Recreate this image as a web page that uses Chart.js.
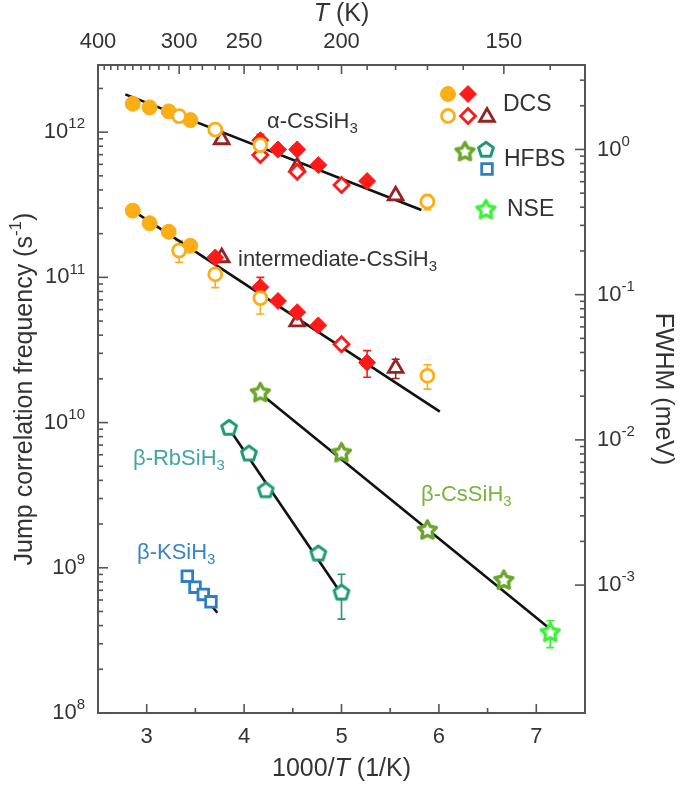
<!DOCTYPE html>
<html>
<head>
<meta charset="utf-8">
<script src="https://cdn.jsdelivr.net/npm/chart.js@4.4.1/dist/chart.umd.min.js"></script>
<style>
  html, body { margin: 0; padding: 0; background: #fff; }
  #wrap { width: 683px; height: 793px; }
</style>
</head>
<body>
<div id="wrap"><canvas id="c" width="683" height="793"></canvas></div>
<script>
// ── Axis ranges ──────────────────────────────────────────────────────
const xMin = 2.5, xMax = 7.5;
const yMin = 1e8, yMax = 2.9e12;
// jump frequency (s^-1) that corresponds to 1 meV FWHM
const perMeV = 7.6e11;

const bottomTicks = [3, 4, 5, 6, 7];
const topTickTemps = [400, 300, 250, 200, 150];
const leftDecades = [8, 9, 10, 11, 12];
const rightDecades = [-3, -2, -1, 0];

// ── alpha-CsSiH3 (DCS) ───────────────────────────────────────────────
const alphaFilledX = [2.857, 3.030, 3.226, 3.448];
const alphaFilledY = [1.57e12, 1.48e12, 1.39e12, 1.21e12];
const alphaOpenX = [3.333, 3.704, 4.167, 5.882];
const alphaOpenY = [1.29e12, 1.04e12, 8.15e11, 3.32e11];
const alphaOpenErr = [0, 0, 0, 4e10];
const alphaRedX = [4.167, 4.348, 4.545, 4.762, 5.263];
const alphaRedY = [8.8e11, 7.6e11, 7.6e11, 5.93e11, 4.6e11];
const alphaRedErr = [8.5e10, 0, 0, 0, 0];
const alphaRedOpenX = [4.167, 4.545, 5.0];
const alphaRedOpenY = [6.95e11, 5.33e11, 4.32e11];
const alphaTriX = [3.77, 4.545, 5.556];
const alphaTriY = [8.9e11, 5.77e11, 3.65e11];
const alphaFitX = [2.78, 5.82];
const alphaFitY = [1.82e12, 2.91e11];

// ── intermediate-CsSiH3 (DCS) ────────────────────────────────────────
const interFilledX = [2.857, 3.030, 3.226, 3.448];
const interFilledY = [2.88e11, 2.36e11, 2.06e11, 1.65e11];
const interOpenX = [3.333, 3.704, 4.167, 5.882];
const interOpenY = [1.53e11, 1.05e11, 7.2e10, 2.1e10];
const interOpenErr = [2.6e10, 2.0e10, 1.6e10, 4e9];
const interRedX = [3.704, 4.167, 4.348, 4.545, 4.762, 5.263];
const interRedY = [1.37e11, 8.55e10, 6.88e10, 5.76e10, 4.67e10, 2.59e10];
const interRedErr = [0, 1.45e10, 0, 0, 0, 5.4e9];
const interRedOpenX = [5.0];
const interRedOpenY = [3.46e10];
const interTriX = [3.77, 4.545, 5.556];
const interTriY = [1.37e11, 4.95e10, 2.37e10];
const interTriErr = [0, 0, 3.6e9];
const interFitX = [2.90, 6.01];
const interFitY = [2.76e11, 1.19e10];

// ── beta phases (HFBS, NSE) ──────────────────────────────────────────
const betaCsX = [4.167, 5.0, 5.882, 6.667];
const betaCsY = [1.6e10, 6.17e9, 1.81e9, 8.17e8];
const betaCsErr = [0, 0, 0, 6e7];
const nseX = [7.143];
const nseY = [3.57e8];
const nseErr = [7.5e7];
const betaCsFitX = [4.17, 7.13];
const betaCsFitY = [1.58e10, 3.85e8];

const betaRbX = [3.846, 4.05, 4.222, 4.762, 5.0];
const betaRbY = [9.17e9, 6.1e9, 3.41e9, 1.25e9, 6.73e8];
const betaRbErr = [0, 0, 0, 0, 2.3e8];
const betaRbFitX = [3.85, 5.0];
const betaRbFitY = [9.0e9, 6.6e8];

const betaKX = [3.417, 3.496, 3.581, 3.66];
const betaKY = [8.75e8, 7.35e8, 6.55e8, 5.83e8];
const betaKFitX = [3.393, 3.725];
const betaKFitY = [9.2e8, 4.9e8];

// ── Colours ──────────────────────────────────────────────────────────
const ORANGE = '#fcae17';
const RED = '#ff1a1a';
const DARKRED = '#962222';
const OLIVE = '#6aa52c';
const TEAL = '#1e9b70';
const BLUE = '#2e7fc0';
const NSEGREEN = '#3cf03c';
const FONT = '"Liberation Sans", Arial, sans-serif';

// open star / pentagon markers drawn into small canvases
function polyMarker(color, R, n, inner, lw) {
  const c = document.createElement('canvas');
  const size = Math.ceil(R * 2 + 8);
  c.width = c.height = size;
  const g = c.getContext('2d');
  const cx = size / 2, cy = size / 2;
  const steps = inner ? n * 2 : n;
  g.beginPath();
  for (let k = 0; k < steps; k++) {
    const r = inner && k % 2 ? R * inner : R;
    const a = -Math.PI / 2 + k * 2 * Math.PI / steps;
    g.lineTo(cx + r * Math.cos(a), cy + r * Math.sin(a));
  }
  g.closePath();
  g.fillStyle = '#fff';
  g.fill();
  g.lineWidth = lw;
  g.lineJoin = 'round';
  g.strokeStyle = color;
  g.stroke();
  return c;
}
const starOlive = polyMarker(OLIVE, 9.5, 5, 0.52, 3.4);
const starNse = polyMarker(NSEGREEN, 9.5, 5, 0.52, 3.4);
const pentTeal = polyMarker(TEAL, 7.8, 5, 0, 3);

function pts(xs, ys) {
  return xs.map((x, i) => ({ x: x, y: ys[i] }));
}

function marks(label, xs, ys, style, color, open, radius, errs) {
  return {
    type: 'scatter',
    label: label,
    data: pts(xs, ys),
    errs: errs || null,
    pointStyle: style,
    pointRadius: radius,
    pointBorderColor: color,
    pointBackgroundColor: open ? '#fff' : color,
    pointBorderWidth: open ? 2.8 : 1,
    order: 0
  };
}

function fit(xs, ys) {
  return {
    type: 'line',
    data: pts(xs, ys),
    borderColor: '#111',
    borderWidth: 2.6,
    pointRadius: 0,
    fill: false,
    order: 5
  };
}

const datasets = [
  marks('alpha open', alphaOpenX, alphaOpenY, 'circle', ORANGE, true, 6.5, alphaOpenErr),
  marks('alpha filled', alphaFilledX, alphaFilledY, 'circle', ORANGE, false, 7.5),
  marks('alpha red', alphaRedX, alphaRedY, 'rectRot', RED, false, 8.5, alphaRedErr),
  marks('alpha red open', alphaRedOpenX, alphaRedOpenY, 'rectRot', RED, true, 7.5),
  marks('alpha tri', alphaTriX, alphaTriY, 'triangle', DARKRED, true, 8.5),
  marks('inter open', interOpenX, interOpenY, 'circle', ORANGE, true, 6.5, interOpenErr),
  marks('inter filled', interFilledX, interFilledY, 'circle', ORANGE, false, 7.5),
  marks('inter red', interRedX, interRedY, 'rectRot', RED, false, 8.5, interRedErr),
  marks('inter red open', interRedOpenX, interRedOpenY, 'rectRot', RED, true, 7.5),
  marks('inter tri', interTriX, interTriY, 'triangle', DARKRED, true, 8.5, interTriErr),
  marks('beta-Cs', betaCsX, betaCsY, starOlive, OLIVE, true, 10, betaCsErr),
  marks('NSE', nseX, nseY, starNse, NSEGREEN, true, 10, nseErr),
  marks('beta-Rb', betaRbX, betaRbY, pentTeal, TEAL, true, 8, betaRbErr),
  marks('beta-K', betaKX, betaKY, 'rect', BLUE, true, 7.5),
  fit(alphaFitX, alphaFitY),
  fit(interFitX, interFitY),
  fit(betaCsFitX, betaCsFitY),
  fit(betaRbFitX, betaRbFitY),
  fit(betaKFitX, betaKFitY)
];

// ── Text helper: runs of plain / italic / sup / sub text ─────────────
function rich(ctx, x, y, parts, align, size, color) {
  const fontOf = function(p) {
    const small = p[1] === 'sup' || p[1] === 'sub';
    const s = small ? Math.round(size * 0.66) : size;
    return (p[1] === 'i' ? 'italic ' : '') + s + 'px ' + FONT;
  };
  let w = 0;
  parts.forEach(function(p) { ctx.font = fontOf(p); w += ctx.measureText(p[0]).width; });
  let cx = align === 'center' ? x - w / 2 : (align === 'right' ? x - w : x);
  ctx.fillStyle = color;
  ctx.textAlign = 'left';
  ctx.textBaseline = 'middle';
  parts.forEach(function(p) {
    ctx.font = fontOf(p);
    const dy = p[1] === 'sup' ? -size * 0.36 : (p[1] === 'sub' ? size * 0.3 : 0);
    ctx.fillText(p[0], cx, y + dy);
    cx += ctx.measureText(p[0]).width;
  });
}

// ── Error bars under the markers ─────────────────────────────────────
const errorBars = {
  id: 'errorBars',
  beforeDatasetsDraw(chart) {
    const ctx = chart.ctx;
    const ys = chart.scales.y;
    chart.data.datasets.forEach(function(ds, i) {
      if (!ds.errs) return;
      const meta = chart.getDatasetMeta(i);
      ctx.save();
      ctx.strokeStyle = ds.pointBorderColor;
      ctx.lineWidth = 1.6;
      ds.errs.forEach(function(e, k) {
        if (!e) return;
        const el = meta.data[k];
        const v = ds.data[k].y;
        const top = ys.getPixelForValue(v + e);
        const bot = ys.getPixelForValue(Math.max(v - e, yMin));
        ctx.beginPath();
        ctx.moveTo(el.x, top); ctx.lineTo(el.x, bot);
        ctx.moveTo(el.x - 4, top); ctx.lineTo(el.x + 4, top);
        ctx.moveTo(el.x - 4, bot); ctx.lineTo(el.x + 4, bot);
        ctx.stroke();
      });
      ctx.restore();
    });
  }
};

// ── Frame, inward ticks, tick labels, titles, legend, phase labels ───
const decor = {
  id: 'decor',
  afterDatasetsDraw(chart) {
    const ctx = chart.ctx;
    const a = chart.chartArea;
    const sx = chart.scales.x, sx2 = chart.scales.x2;
    const sy = chart.scales.y, sy2 = chart.scales.y2;
    ctx.save();

    // phase labels
    rich(ctx, a.left + 169, a.top + 57, [['\u03b1-CsSiH'], ['3', 'sub']], 'left', 22, '#333');
    rich(ctx, a.left + 140, a.top + 195, [['intermediate-CsSiH'], ['3', 'sub']], 'left', 22, '#333');
    rich(ctx, a.left + 35, a.top + 394, [['\u03b2-RbSiH'], ['3', 'sub']], 'left', 22, '#3fa6a2');
    rich(ctx, a.left + 39, a.top + 488, [['\u03b2-KSiH'], ['3', 'sub']], 'left', 22, '#3b84c4');
    rich(ctx, a.left + 323, a.top + 430, [['\u03b2-CsSiH'], ['3', 'sub']], 'left', 22, '#7ab43c');

    // legend
    const H = Chart.helpers;
    const pt = function(style, color, open, r, x, y) {
      ctx.save();
      ctx.strokeStyle = color;
      ctx.fillStyle = open ? '#fff' : color;
      ctx.lineWidth = open ? 2.8 : 1;
      H.drawPoint(ctx, { pointStyle: style, radius: r, rotation: 0, borderWidth: ctx.lineWidth }, a.left + x, a.top + y);
      ctx.restore();
    };
    pt('circle', ORANGE, false, 7.5, 350, 29);
    pt('rectRot', RED, false, 8.5, 370, 29);
    pt('circle', ORANGE, true, 6.5, 350, 51);
    pt('rectRot', RED, true, 7.5, 370, 51);
    pt('triangle', DARKRED, true, 8.5, 389, 52);
    pt(starOlive, OLIVE, true, 10, 367, 87);
    pt(pentTeal, TEAL, true, 8, 388, 85);
    pt('rect', BLUE, true, 7.5, 389, 104);
    pt(starNse, NSEGREEN, true, 10, 388, 145);
    rich(ctx, a.left + 405, a.top + 40, [['DCS']], 'left', 23, '#333');
    rich(ctx, a.left + 406, a.top + 95, [['HFBS']], 'left', 23, '#333');
    rich(ctx, a.left + 409, a.top + 145, [['NSE']], 'left', 23, '#333');

    // frame
    ctx.strokeStyle = '#555';
    ctx.lineWidth = 2;
    ctx.strokeRect(a.left, a.top, a.right - a.left, a.bottom - a.top);

    const tick = function(x0, y0, dx, dy) {
      ctx.beginPath(); ctx.moveTo(x0, y0); ctx.lineTo(x0 + dx, y0 + dy); ctx.stroke();
    };
    ctx.lineWidth = 1.6;

    // bottom axis
    for (let v = 3; v <= 7.01; v += 0.5) {
      const px = sx.getPixelForValue(v);
      tick(px, a.bottom, 0, Number.isInteger(v) ? -9 : -5);
    }
    bottomTicks.forEach(function(v) {
      rich(ctx, sx.getPixelForValue(v), 737, [[String(v)]], 'center', 22, '#333');
    });
    rich(ctx, (a.left + a.right) / 2, 769, [['1000/'], ['T', 'i'], [' (1/K)']], 'center', 25, '#333');

    // top axis: temperature every 10 K
    for (let T = 400; T >= 140; T -= 10) {
      const px = sx2.getPixelForValue(1000 / T);
      tick(px, a.top, 0, topTickTemps.indexOf(T) >= 0 ? 9 : 5);
    }
    topTickTemps.forEach(function(T) {
      rich(ctx, sx2.getPixelForValue(1000 / T), 42, [[String(T)]], 'center', 22, '#333');
    });
    rich(ctx, (a.left + a.right) / 2, 14, [['T', 'i'], [' (K)']], 'center', 25, '#333');

    // left axis (log)
    leftDecades.forEach(function(d) {
      for (let m = 1; m <= 9; m++) {
        const v = m * Math.pow(10, d);
        if (v < yMin || v > yMax) continue;
        tick(a.left, sy.getPixelForValue(v), m === 1 ? 10 : 5, 0);
      }
      rich(ctx, 85, sy.getPixelForValue(Math.pow(10, d)), [['10'], [String(d), 'sup']], 'right', 22, '#333');
    });
    ctx.save();
    ctx.translate(25, (a.top + a.bottom) / 2);
    ctx.rotate(-Math.PI / 2);
    rich(ctx, 0, 0, [['Jump correlation frequency (s'], ['-1', 'sup'], [')']], 'center', 25, '#333');
    ctx.restore();

    // right axis (log, FWHM)
    rightDecades.forEach(function(d) {
      for (let m = 1; m <= 9; m++) {
        const v = m * Math.pow(10, d);
        if (v < sy2.min || v > sy2.max) continue;
        tick(a.right, sy2.getPixelForValue(v), m === 1 ? -10 : -5, 0);
      }
      rich(ctx, 597, sy2.getPixelForValue(Math.pow(10, d)), [['10'], [String(d), 'sup']], 'left', 22, '#333');
    });
    ctx.save();
    ctx.translate(663, (a.top + a.bottom) / 2);
    ctx.rotate(Math.PI / 2);
    rich(ctx, 0, 0, [['FWHM (meV)']], 'center', 25, '#333');
    ctx.restore();

    ctx.restore();
  }
};

new Chart(document.getElementById('c').getContext('2d'), {
  data: { datasets: datasets },
  options: {
    responsive: false,
    animation: false,
    events: [],
    layout: { padding: { left: 98, right: 98, top: 65, bottom: 80 } },
    plugins: { legend: { display: false }, tooltip: { enabled: false } },
    scales: {
      x: { type: 'linear', display: false, min: xMin, max: xMax },
      x2: { type: 'linear', display: false, position: 'top', min: xMin, max: xMax },
      y: { type: 'logarithmic', display: false, min: yMin, max: yMax },
      y2: { type: 'logarithmic', display: false, position: 'right', min: yMin / perMeV, max: yMax / perMeV }
    }
  },
  plugins: [errorBars, decor]
});
</script>
</body>
</html>
